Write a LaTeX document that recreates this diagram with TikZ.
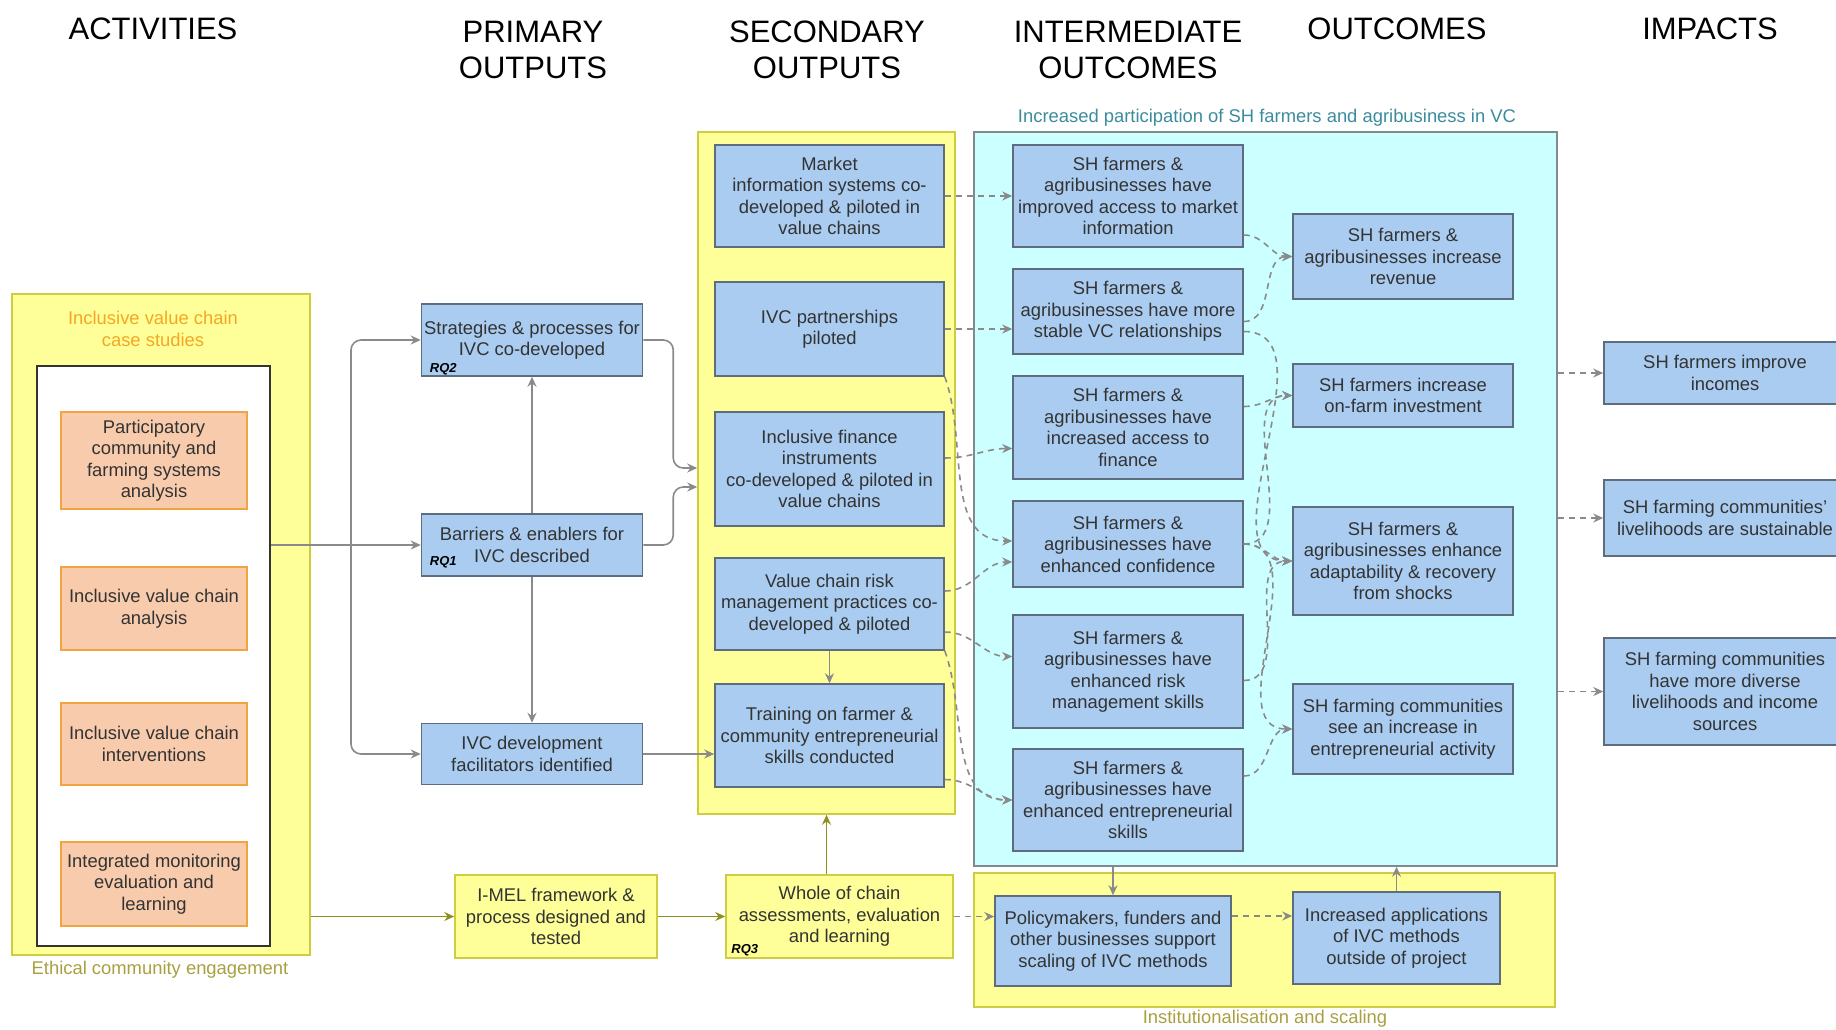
\documentclass[tikz,border=0pt]{standalone}
\usepackage{fontspec}
\setmainfont{Liberation Sans}
\usepackage{xcolor}
\usepackage{tikz}
\usetikzlibrary{arrows.meta, positioning}
\definecolor{boxblue}{HTML}{A9CCF0}
\definecolor{boxline}{HTML}{5D6D7E}
\definecolor{actfill}{HTML}{F8CBAD}
\definecolor{actline}{HTML}{F2A43E}
\definecolor{groupyellow}{HTML}{FFFF99}
\definecolor{groupline}{HTML}{CDCD3F}
\definecolor{vcfill}{HTML}{CCFFFF}
\definecolor{vcline}{HTML}{808A8F}
\definecolor{textgray}{HTML}{333333}
\definecolor{arrowgray}{HTML}{8A8A8A}
\definecolor{melolive}{HTML}{8F8F1F}
\definecolor{caseorange}{HTML}{F5A623}
\definecolor{olivetext}{HTML}{A8A040}
\definecolor{tealtext}{HTML}{3B8C9E}

\begin{document}
\begin{tikzpicture}[
    x=1pt, y=-1pt,
    every node/.style={text=textgray, align=center, inner sep=1pt, font=\fontsize{18.4}{21.5}\selectfont},
    header/.style={text=black, font=\fontsize{31}{36}\selectfont},
    outbox/.style={draw=boxline, fill=boxblue, line width=1.5pt},
    actbox/.style={draw=actline, fill=actfill, line width=1.5pt, minimum width=186pt},
    melbox/.style={draw=groupline, fill=groupyellow, line width=1.5pt},
    groupbox/.style={draw=groupline, fill=groupyellow, line width=1.5pt},
    pcol/.style={outbox, minimum width=221pt},
    scol/.style={outbox, minimum width=229pt},
    icol/.style={outbox, minimum width=230pt},
    ocol/.style={outbox, minimum width=220pt},
    mcol/.style={outbox, minimum width=242pt},
    rq/.style={text=black, inner sep=0pt, font=\fontsize{13}{15}\selectfont\bfseries\itshape},
    arrow/.style={-{Stealth[length=10pt, width=9pt]}, line width=1.6pt, draw=arrowgray},
    dasharrow/.style={arrow, dash pattern=on 6pt off 5pt},
    melarrow/.style={arrow, draw=melolive}
]
\clip (0,0) rectangle (1836,1029);

% column headings
\node[header] (hact) at (153,29) {ACTIVITIES};
\node[header] (hprim) at (533,50) {PRIMARY\\OUTPUTS};
\node[header] (hsec) at (827,50) {SECONDARY\\OUTPUTS};
\node[header] (hint) at (1128,50) {INTERMEDIATE\\OUTCOMES};
\node[header] (hout) at (1397,29) {OUTCOMES};
\node[header] (himp) at (1710,29) {IMPACTS};

% group boxes
\node[groupbox, minimum width=298pt, minimum height=661pt] (actgroup) at (161,624.5) {};
\node[draw=black!80, fill=white, line width=1.5pt, minimum width=233pt, minimum height=580pt] (cases) at (153.5,656) {};
\node[text=caseorange] (caselabel) at (153,329) {Inclusive value chain\\case studies};
\node[text=olivetext] (ethics) at (160,970) {Ethical community engagement};
\node[groupbox, minimum width=257pt, minimum height=682pt] (secgroup) at (826.5,473) {};
\node[draw=vcline, fill=vcfill, line width=1.5pt, minimum width=583pt, minimum height=734pt] (vcgroup) at (1265.5,499) {};
\node[text=tealtext] (vclabel) at (1267,118) {Increased participation of SH farmers and agribusiness in VC};
\node[groupbox, minimum width=581pt, minimum height=134pt] (scalegroup) at (1264.5,940) {};
\node[text=olivetext] (scalelabel) at (1265,1019) {Institutionalisation and scaling};

% activities
\node[actbox, minimum height=97pt] (A1) at (154,460.5) {Participatory\\community and\\farming systems\\analysis};
\node[actbox, minimum height=83pt] (A2) at (154,608.5) {Inclusive value chain\\analysis};
\node[actbox, minimum height=82pt] (A3) at (154,744) {Inclusive value chain\\interventions};
\node[actbox, minimum height=84pt] (A4) at (154,884) {Integrated monitoring\\evaluation and\\learning};

% primary outputs
\node[pcol, minimum height=72pt] (P1) at (532,340) {Strategies \& processes for\\IVC co-developed};
\node[pcol, minimum height=62pt] (P2) at (532,545) {Barriers \& enablers for\\IVC described};
\node[pcol, minimum height=61pt] (P3) at (532,754) {IVC development\\facilitators identified};
\node[rq, anchor=south west] (rq2) at ([xshift=9pt, yshift=2pt]P1.south west) {RQ2};
\node[rq, anchor=south west] (rq1) at ([xshift=9pt, yshift=9pt]P2.south west) {RQ1};

% secondary outputs
\node[scol, minimum height=102pt] (S1) at (829.5,196) {Market\\information systems co-\\developed \& piloted in\\value chains};
\node[scol, minimum height=94pt] (S2) at (829.5,329) {IVC partnerships\\piloted};
\node[scol, minimum height=114pt] (S3) at (829.5,469) {Inclusive finance\\instruments\\co-developed \& piloted in\\value chains};
\node[scol, minimum height=92pt] (S4) at (829.5,604) {Value chain risk\\management practices co-\\developed \& piloted};
\node[scol, minimum height=103pt] (S5) at (829.5,735.5) {Training on farmer \&\\community entrepreneurial\\skills conducted};

% intermediate outcomes
\node[icol, minimum height=102pt] (I1) at (1128,196) {SH farmers \&\\agribusinesses have\\improved access to market\\information};
\node[icol, minimum height=85pt] (I2) at (1128,311.5) {SH farmers \&\\agribusinesses have more\\stable VC relationships};
\node[icol, minimum height=103pt] (I3) at (1128,427.5) {SH farmers \&\\agribusinesses have\\increased access to\\finance};
\node[icol, minimum height=86pt] (I4) at (1128,544) {SH farmers \&\\agribusinesses have\\enhanced confidence};
\node[icol, minimum height=113pt] (I5) at (1128,671.5) {SH farmers \&\\agribusinesses have\\enhanced risk\\management skills};
\node[icol, minimum height=102pt] (I6) at (1128,800) {SH farmers \&\\agribusinesses have\\enhanced entrepreneurial\\skills};

% outcomes
\node[ocol, minimum height=85pt] (O1) at (1403,256.5) {SH farmers \&\\agribusinesses increase\\revenue};
\node[ocol, minimum height=63pt] (O2) at (1403,395.5) {SH farmers increase\\on-farm investment};
\node[ocol, minimum height=108pt] (O3) at (1403,561) {SH farmers \&\\agribusinesses enhance\\adaptability \& recovery\\from shocks};
\node[ocol, minimum height=90pt] (O4) at (1403,729) {SH farming communities\\see an increase in\\entrepreneurial activity};

% impacts
\node[mcol, minimum height=62pt] (M1) at (1725,373) {SH farmers improve\\incomes};
\node[mcol, minimum height=76pt] (M2) at (1725,518) {SH farming communities'\\livelihoods are sustainable};
\node[mcol, minimum height=107pt] (M3) at (1725,691.5) {SH farming communities\\have more diverse\\livelihoods and income\\sources};

% scaling
\node[outbox, minimum width=236pt, minimum height=90pt] (B1) at (1113,941) {Policymakers, funders and\\other businesses support\\scaling of IVC methods};
\node[outbox, minimum width=207pt, minimum height=92pt] (B2) at (1396.5,938) {Increased applications\\of IVC methods\\outside of project};

% I-MEL row
\node[melbox, minimum width=202pt, minimum height=83pt] (Y1) at (556,916.5) {I-MEL framework \&\\process designed and\\tested};
\node[melbox, minimum width=227pt, minimum height=83pt] (Y2) at (839.5,916.5) {Whole of chain\\assessments, evaluation\\and learning};
\node[rq, anchor=south west] (rq3) at ([xshift=6pt, yshift=3pt]Y2.south west) {RQ3};

% activities -> primary outputs
\coordinate (fork) at (351,545);
\draw[arrow] (fork -| cases.east) -- (P2.west);
\draw[arrow, rounded corners=10pt] (fork) |- (P1.west);
\draw[arrow, rounded corners=10pt] (fork) |- (P3.west);
\draw[arrow] (P2.north) -- (P1.south);
\draw[arrow] (P2.south) -- (P3.north);
\draw[arrow, rounded corners=10pt] (P1.east) -- ++(30,0) |- ([yshift=5pt]secgroup.west);
\draw[arrow, rounded corners=10pt] (P2.east) -- ++(30,0) |- ([yshift=-14pt]secgroup.west);
\draw[arrow] (P3.east) -- (P3.east -| S5.west);
\draw[arrow] (S4.south) -- (S5.north);

% secondary -> intermediate
\draw[dasharrow] (S1.east) -- (I1.west);
\draw[dasharrow] (S2.east) -- (S2.east -| I2.west);
\draw[dasharrow] ([yshift=11pt]S3.east) to[out=0, in=180] ([yshift=-21pt]I3.west);
\draw[dasharrow] (S2.south east) to[out=-70, in=180] ([yshift=3pt]I4.west);
\draw[dasharrow] ([yshift=13pt]S4.east) to[out=0, in=180] ([yshift=-18pt]I4.west);
\draw[dasharrow] ([yshift=-28pt]S4.east) to[out=0, in=180] ([yshift=15pt]I5.west);
\draw[dasharrow] (S4.south east) to[out=-70, in=180] (I6.west);
\draw[dasharrow] ([yshift=-44pt]S5.east) to[out=0, in=180] (I6.west);

% intermediate -> outcomes
\draw[dasharrow] ([yshift=-39pt]I1.east) to[out=0, in=180] (O1.west);
\draw[dasharrow] ([yshift=-10pt]I2.east) to[out=0, in=180] (O1.west);
\draw[dasharrow] ([yshift=-20pt]I2.east) to[out=0, in=180] (O3.west);
\draw[dasharrow] ([yshift=21pt]I3.east) to[out=0, in=180] (O2.west);
\draw[dasharrow] (I4.east) to[out=0, in=180] (O2.west);
\draw[dasharrow] (I4.east) to[out=0, in=180] (O3.west);
\draw[dasharrow] (I4.east) to[out=0, in=180] (O4.west);
\draw[dasharrow] ([yshift=-9pt]I5.east) to[out=0, in=180] (O3.west);
\draw[dasharrow] ([yshift=24pt]I6.east) to[out=0, in=180] (O4.west);

% outcomes -> impacts
\draw[dasharrow] (M1.west -| vcgroup.east) -- (M1.west);
\draw[dasharrow] (M2.west -| vcgroup.east) -- (M2.west);
\draw[dasharrow] (M3.west -| vcgroup.east) -- (M3.west);

% scaling
\draw[arrow] (B1.north |- vcgroup.south) -- (B1.north);
\draw[arrow] (B2.north) -- (B2.north |- vcgroup.south);
\draw[dasharrow] ([yshift=25pt]B1.east) -- ([yshift=25pt]B1.east -| B2.west);

% I-MEL path
\draw[melarrow] (Y1.west -| actgroup.east) -- (Y1.west);
\draw[melarrow] (Y1.east) -- (Y2.west);
\draw[melarrow] (Y2.north -| secgroup.south) -- (secgroup.south);
\draw[dasharrow] (Y2.east) -- (Y2.east -| B1.west);
\end{tikzpicture}
\end{document}
